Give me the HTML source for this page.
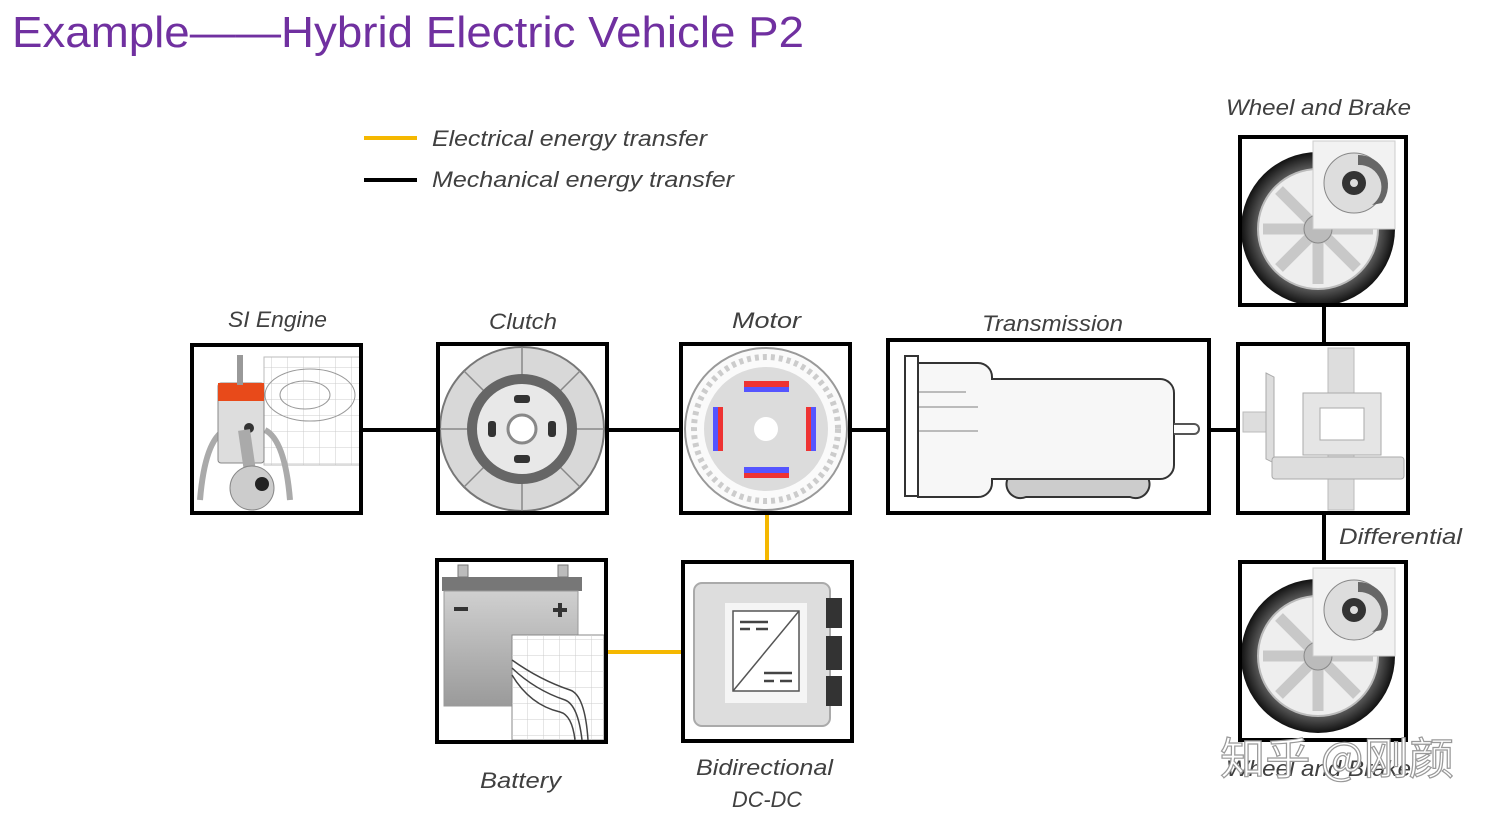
<!DOCTYPE html>
<html><head><meta charset="utf-8"><style>
html,body{margin:0;padding:0;background:#fff;width:1491px;height:817px;overflow:hidden}
svg{display:block}
.lbl{font-family:"Liberation Sans",sans-serif;font-style:italic;font-size:22px;fill:#404040}
</style></head><body>
<svg width="1491" height="817" viewBox="0 0 1491 817" xmlns="http://www.w3.org/2000/svg">
<defs>
<linearGradient id="gg" x1="0" y1="0" x2="0" y2="1"><stop offset="0" stop-color="#d0d0d0"/><stop offset="1" stop-color="#9a9a9a"/></linearGradient>
<radialGradient id="tire" cx="0.5" cy="0.5" r="0.5"><stop offset="0.8" stop-color="#555"/><stop offset="1" stop-color="#111"/></radialGradient>
<pattern id="grid" width="16" height="16" patternUnits="userSpaceOnUse"><path d="M16 0V16H0" fill="none" stroke="#ccc" stroke-width="1"/></pattern>
<g id="wheel">
<circle cx="0" cy="0" r="77" fill="url(#tire)"/>
<circle cx="0" cy="0" r="60" fill="#eee" stroke="#bbb" stroke-width="2"/>
<g stroke="#c8c8c8" stroke-width="11">
<line x1="0" y1="-55" x2="0" y2="55"/><line x1="-55" y1="0" x2="55" y2="0"/>
<line x1="-39" y1="-39" x2="39" y2="39"/><line x1="-39" y1="39" x2="39" y2="-39"/></g>
<circle cx="0" cy="0" r="14" fill="#bbb" stroke="#888"/>
<rect x="-5" y="-88" width="82" height="88" fill="#f2f2f2" stroke="#ccc"/>
<circle cx="36" cy="-46" r="30" fill="#ddd" stroke="#888"/>
<path d="M40 -74 A30 30 0 0 1 64 -26 L54 -24 A22 22 0 0 0 40 -64Z" fill="#666"/>
<circle cx="36" cy="-46" r="12" fill="#333"/><circle cx="36" cy="-46" r="4" fill="#ddd"/>
</g>
</defs>

<text x="12" y="47" font-family="Liberation Sans,sans-serif" font-size="44" fill="#7030a0" textLength="792" lengthAdjust="spacingAndGlyphs">Example——Hybrid Electric Vehicle P2</text>

<line x1="364" y1="138" x2="417" y2="138" stroke="#f5b800" stroke-width="4"/>
<line x1="364" y1="180" x2="417" y2="180" stroke="#000" stroke-width="4"/>
<text class="lbl" x="432" y="146" textLength="275" lengthAdjust="spacingAndGlyphs">Electrical energy transfer</text>
<text class="lbl" x="432" y="187" textLength="302" lengthAdjust="spacingAndGlyphs">Mechanical energy transfer</text>

<g stroke="#000" stroke-width="4">
<line x1="361" y1="430" x2="438" y2="430"/>
<line x1="607" y1="430" x2="681" y2="430"/>
<line x1="850" y1="430" x2="888" y2="430"/>
<line x1="1209" y1="430" x2="1238" y2="430"/>
<line x1="1324" y1="305" x2="1324" y2="344"/>
<line x1="1324" y1="513" x2="1324" y2="562"/>
</g>
<g stroke="#f5b800" stroke-width="4">
<line x1="767" y1="513" x2="767" y2="562"/>
<line x1="606" y1="652" x2="683" y2="652"/>
</g>

<text class="lbl" x="228" y="327" textLength="99" lengthAdjust="spacingAndGlyphs">SI Engine</text>
<rect x="264" y="357" width="96" height="108" fill="url(#grid)" stroke="#bbb"/>
<ellipse cx="310" cy="395" rx="45" ry="26" fill="none" stroke="#999"/>
<ellipse cx="305" cy="395" rx="25" ry="14" fill="none" stroke="#999"/>
<path d="M200 500 Q205 440 225 430 M290 500 Q285 440 265 430" stroke="#aaa" stroke-width="6" fill="none"/>
<rect x="218" y="383" width="46" height="80" rx="3" fill="#ddd" stroke="#888"/>
<rect x="218" y="383" width="46" height="18" fill="#e84a1a"/>
<rect x="237" y="355" width="6" height="30" fill="#999"/>
<circle cx="249" cy="428" r="5" fill="#333"/>
<path d="M244 430 L252 485" stroke="#aaa" stroke-width="12"/>
<circle cx="252" cy="488" r="22" fill="#ccc" stroke="#888"/>
<circle cx="262" cy="484" r="7" fill="#222"/>
<rect x="192" y="345" width="169" height="168" fill="none" stroke="#000" stroke-width="4"/>

<text class="lbl" x="489" y="329" textLength="68" lengthAdjust="spacingAndGlyphs">Clutch</text>
<circle cx="522" cy="429" r="82" fill="#d8d8d8" stroke="#777" stroke-width="2"/>
<g stroke="#888" stroke-width="1.5">
<line x1="522" y1="347" x2="522" y2="385"/><line x1="522" y1="473" x2="522" y2="511"/>
<line x1="440" y1="429" x2="478" y2="429"/><line x1="566" y1="429" x2="604" y2="429"/>
<line x1="464" y1="371" x2="491" y2="398"/><line x1="553" y1="460" x2="580" y2="487"/>
<line x1="464" y1="487" x2="491" y2="460"/><line x1="553" y1="398" x2="580" y2="371"/>
</g>
<circle cx="522" cy="429" r="50" fill="#e8e8e8" stroke="#666" stroke-width="10"/>
<circle cx="522" cy="429" r="14" fill="#fff" stroke="#888" stroke-width="3"/>
<rect x="514" y="395" width="16" height="8" rx="3" fill="#333"/><rect x="514" y="455" width="16" height="8" rx="3" fill="#333"/>
<rect x="488" y="421" width="8" height="16" rx="3" fill="#333"/><rect x="548" y="421" width="8" height="16" rx="3" fill="#333"/>
<rect x="438" y="344" width="169" height="169" fill="none" stroke="#000" stroke-width="4"/>

<text class="lbl" x="732" y="328" textLength="69" lengthAdjust="spacingAndGlyphs">Motor</text>
<circle cx="766" cy="429" r="81" fill="#fafafa" stroke="#999" stroke-width="2"/>
<circle cx="766" cy="429" r="72" fill="none" stroke="#ccc" stroke-width="6" stroke-dasharray="4 4"/>
<circle cx="766" cy="429" r="62" fill="#dcdcdc"/>
<circle cx="766" cy="429" r="12" fill="#fff"/>
<rect x="744" y="381" width="45" height="6" fill="#e33"/><rect x="744" y="387" width="45" height="5" fill="#55f"/>
<rect x="744" y="467" width="45" height="6" fill="#55f"/><rect x="744" y="473" width="45" height="5" fill="#e33"/>
<rect x="713" y="407" width="5" height="44" fill="#55f"/><rect x="718" y="407" width="5" height="44" fill="#e33"/>
<rect x="806" y="407" width="5" height="44" fill="#e33"/><rect x="811" y="407" width="5" height="44" fill="#55f"/>
<rect x="681" y="344" width="169" height="169" fill="none" stroke="#000" stroke-width="4"/>

<text class="lbl" x="982" y="331" textLength="141" lengthAdjust="spacingAndGlyphs">Transmission</text>
<path d="M1012 473 h132 a14 14 0 0 1 -14 24 h-104 a14 14 0 0 1 -14 -24z" fill="#ccc" stroke="#333" stroke-width="2"/>
<path d="M918 363 h60 a14 14 0 0 1 14 14 v2 h168 a14 14 0 0 1 14 14 v72 a14 14 0 0 1 -14 14 h-168 v4 a14 14 0 0 1 -14 14 h-60z" fill="#f7f7f7" stroke="#333" stroke-width="2"/>
<rect x="905" y="356" width="13" height="140" fill="#fff" stroke="#333" stroke-width="2"/>
<path d="M1174 424 h20 a5 5 0 0 1 0 10 h-20" fill="#fff" stroke="#555" stroke-width="2"/>
<g stroke="#bbb" stroke-width="2"><line x1="919" y1="392" x2="966" y2="392"/><line x1="919" y1="407" x2="978" y2="407"/><line x1="919" y1="431" x2="978" y2="431"/></g>
<rect x="888" y="340" width="321" height="173" fill="none" stroke="#000" stroke-width="4"/>

<rect x="1328" y="348" width="26" height="162" fill="#ddd" stroke="#bbb"/>
<rect x="1243" y="412" width="30" height="20" fill="#ddd" stroke="#bbb"/>
<path d="M1266 373 l8 4 v86 l-8 -4z" fill="#ddd" stroke="#aaa"/>
<rect x="1303" y="393" width="78" height="62" fill="#e5e5e5" stroke="#aaa"/>
<rect x="1320" y="408" width="44" height="32" fill="#fff" stroke="#aaa"/>
<rect x="1272" y="457" width="132" height="22" rx="3" fill="#ddd" stroke="#aaa"/>
<rect x="1238" y="344" width="170" height="169" fill="none" stroke="#000" stroke-width="4"/>
<text class="lbl" x="1339" y="544" textLength="123" lengthAdjust="spacingAndGlyphs">Differential</text>

<text class="lbl" x="1226" y="115" textLength="185" lengthAdjust="spacingAndGlyphs">Wheel and Brake</text>
<svg x="1242" y="139" width="162" height="164" overflow="hidden"><use href="#wheel" x="76" y="90"/></svg>
<rect x="1240" y="137" width="166" height="168" fill="none" stroke="#000" stroke-width="4"/>
<svg x="1242" y="564" width="162" height="174" overflow="hidden"><use href="#wheel" x="76" y="92"/></svg>
<rect x="1240" y="562" width="166" height="178" fill="none" stroke="#000" stroke-width="4"/>
<text class="lbl" x="1226" y="776" fill="#666" textLength="185" lengthAdjust="spacingAndGlyphs">Wheel and Brake</text>

<rect x="458" y="565" width="10" height="12" fill="#bbb" stroke="#777"/><rect x="558" y="565" width="10" height="12" fill="#bbb" stroke="#777"/>
<rect x="442" y="577" width="140" height="14" fill="#777"/>
<rect x="444" y="591" width="134" height="115" fill="url(#gg)" stroke="#999"/>
<rect x="454" y="607" width="14" height="4" fill="#333"/>
<rect x="553" y="608" width="14" height="4" fill="#333"/><rect x="558" y="603" width="4" height="14" fill="#333"/>
<rect x="512" y="635" width="92" height="105" fill="#fff" stroke="#888"/>
<rect x="512" y="635" width="92" height="105" fill="url(#grid)"/>
<path d="M512 660 Q540 680 570 690 Q585 695 588 740 M512 668 Q535 690 565 700 Q578 705 582 740 M512 675 Q530 705 560 712 Q572 715 575 740" fill="none" stroke="#444" stroke-width="1.5"/>
<rect x="437" y="560" width="169" height="182" fill="none" stroke="#000" stroke-width="4"/>
<text class="lbl" x="480" y="788" textLength="81" lengthAdjust="spacingAndGlyphs">Battery</text>

<rect x="694" y="583" width="136" height="143" rx="8" fill="#ddd" stroke="#aaa" stroke-width="2"/>
<rect x="826" y="598" width="16" height="30" fill="#333"/><rect x="826" y="636" width="16" height="34" fill="#333"/><rect x="826" y="676" width="16" height="30" fill="#333"/>
<rect x="725" y="603" width="82" height="100" fill="#f5f5f5"/>
<rect x="733" y="611" width="66" height="80" fill="#fff" stroke="#555" stroke-width="1.5"/>
<line x1="733" y1="691" x2="799" y2="611" stroke="#555" stroke-width="1.5"/>
<g stroke="#444" stroke-width="2.5"><line x1="740" y1="622" x2="768" y2="622"/><line x1="740" y1="629" x2="750" y2="629"/><line x1="756" y1="629" x2="768" y2="629"/>
<line x1="764" y1="673" x2="792" y2="673"/><line x1="764" y1="681" x2="774" y2="681"/><line x1="780" y1="681" x2="792" y2="681"/></g>
<rect x="683" y="562" width="169" height="179" fill="none" stroke="#000" stroke-width="4"/>
<text class="lbl" x="696" y="775" textLength="137" lengthAdjust="spacingAndGlyphs">Bidirectional</text>
<text class="lbl" x="732" y="807" textLength="70" lengthAdjust="spacingAndGlyphs">DC-DC</text>

<text x="1220" y="774" font-family="'Noto Sans CJK SC',sans-serif" font-size="44" fill="#fff" stroke="#999" stroke-width="1.2" textLength="234" lengthAdjust="spacingAndGlyphs">知乎 @刚颜</text>
</svg>
</body></html>
